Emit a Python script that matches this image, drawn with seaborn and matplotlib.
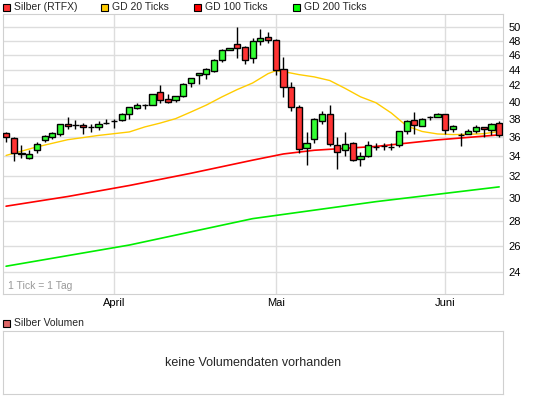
import numpy as np
import pandas as pd
import seaborn as sns
import matplotlib.pyplot as plt
from matplotlib.patches import Rectangle

# candles (daily ticks)
opens = [36.40, 35.92, 34.28, 33.81, 34.60, 35.65, 36.03, 36.36, 37.38, 37.33,
         37.27, 37.12, 37.12, 37.56, 37.79, 37.84, 38.59, 39.29, 39.64, 39.64,
         41.16, 40.28, 40.16, 40.73, 42.26, 43.28, 43.45, 43.84, 45.26, 46.64,
         47.48, 47.06, 45.53, 47.90, 48.49, 48.05, 44.06, 41.76, 39.33, 34.80,
         35.75, 37.72, 38.52, 35.12, 34.60, 35.32, 33.68, 33.98, 34.97, 35.01,
         34.97, 35.15, 36.68, 37.91, 37.22, 38.17, 38.17, 38.52, 36.90, 36.25,
         36.29, 36.68, 37.12, 36.79, 37.56]
highs = [36.54, 35.97, 35.12, 34.63, 35.43, 36.22, 36.54, 37.41, 38.21, 37.87,
         37.49, 37.38, 37.75, 37.98, 37.95, 38.64, 39.37, 39.84, 39.72, 40.93,
         42.05, 40.93, 40.68, 42.30, 42.93, 43.57, 44.20, 45.40, 46.78, 47.00,
         49.95, 47.24, 48.34, 49.66, 49.22, 48.24, 45.67, 42.42, 39.57, 36.51,
         38.07, 38.90, 39.57, 35.97, 36.51, 35.43, 34.39, 35.53, 35.32, 35.38,
         35.38, 36.64, 37.87, 38.82, 38.13, 38.36, 38.67, 38.52, 37.31, 36.47,
         36.90, 37.33, 37.12, 37.56, 37.71]
lows = [35.49, 33.51, 33.84, 33.71, 34.35, 35.43, 35.75, 36.14, 36.83, 36.90,
        36.36, 36.54, 36.76, 37.38, 37.01, 37.75, 38.02, 39.11, 39.17, 39.60,
        39.80, 39.80, 40.01, 40.52, 41.84, 42.22, 42.84, 43.71, 45.07, 46.64,
        45.61, 44.73, 44.95, 47.33, 47.70, 43.28, 40.61, 38.94, 34.28, 33.14,
        35.32, 37.38, 35.01, 32.68, 33.98, 33.50, 32.98, 33.90, 34.63, 34.63,
        34.63, 34.97, 36.29, 36.29, 37.22, 37.91, 38.17, 36.36, 36.58, 35.08,
        36.29, 36.47, 36.03, 36.25, 36.03]
closes = [35.97, 34.28, 34.24, 34.21, 35.22, 36.11, 36.40, 37.38, 37.16, 37.33,
          37.12, 37.12, 37.38, 37.56, 37.79, 38.52, 39.33, 39.57, 39.64, 40.89,
          40.20, 40.01, 40.64, 42.14, 42.89, 43.53, 44.06, 45.26, 46.64, 46.92,
          46.92, 45.26, 47.90, 48.34, 48.05, 43.93, 41.76, 39.33, 34.70, 35.32,
          37.95, 38.52, 35.22, 34.39, 35.22, 33.58, 33.98, 35.12, 34.97, 35.01,
          34.97, 36.64, 37.79, 37.27, 37.95, 38.17, 38.52, 36.79, 37.20, 36.25,
          36.68, 37.12, 36.87, 37.45, 36.18]

# moving averages, read at tick positions
gd20_idx = [0, 4, 8, 12, 16, 18, 20, 22, 24, 26, 28, 30, 32, 34, 35, 36, 38, 40,
            42, 44, 46, 48, 50, 52, 54, 56, 58, 60, 62, 64]
gd20 = [34.06, 34.94, 35.70, 36.16, 36.54, 37.09, 37.52, 38.02, 38.79, 39.60,
        40.57, 41.48, 42.30, 43.50, 43.88, 43.77, 43.38, 43.08, 42.62, 41.63,
        40.59, 39.88, 38.67, 37.20, 36.59, 36.32, 36.25, 36.28, 36.35, 36.59]
gd100_idx = [0, 8, 16, 24, 32, 36, 40, 48, 56, 64]
gd100 = [29.26, 30.12, 31.13, 32.29, 33.58, 34.21, 34.59, 34.99, 35.68, 36.22]
gd200_idx = [0, 16, 32, 48, 64]
gd200 = [24.45, 26.05, 28.19, 29.66, 31.00]

month_pos = [14, 35, 57]
month_labels = ["April", "Mai", "Juni"]
y_ticks = list(range(24, 51, 2))

sns.set_style("white")
plt.rcParams['font.family'] = ['Liberation Sans', 'DejaVu Sans']

fig = plt.figure(figsize=(5.45, 3.98), dpi=100)
W, H = 545, 398
ax = fig.add_axes([3/W, 1-294/H, 500/W, 280/H])

n = len(opens)
x = np.arange(n)
df = pd.DataFrame({"x": x, "o": opens, "h": highs, "l": lows, "c": closes})
up = df.c >= df.o
cols = np.where(up, "#33ff33", "#ff3333")

ax.vlines(df.x, df.l, df.h, color="black", lw=1, zorder=3)
ax.bar(df.x, (df.c - df.o).abs(), bottom=np.minimum(df.o, df.c), width=0.8,
       color=cols, edgecolor="black", linewidth=1, zorder=4)

sns.lineplot(x=gd20_idx, y=gd20, color="#ffcc00", lw=1, ax=ax, zorder=2)
sns.lineplot(x=gd100_idx, y=gd100, color="#ff0000", lw=1.2, ax=ax, zorder=2)
sns.lineplot(x=gd200_idx, y=gd200, color="#00ee00", lw=1.2, ax=ax, zorder=2)

ax.set_yscale("log")
ax.set_ylim(22.5, 52)
ax.set_xlim(-0.4, 64.5)
ax.set_yticks(y_ticks)
ax.set_yticklabels([str(t) for t in y_ticks])
ax.yaxis.set_minor_locator(plt.NullLocator())
ax.yaxis.tick_right()
ax.set_xticks(month_pos)
ax.set_xticklabels(month_labels)
ax.tick_params(length=0, labelsize=8, colors="black", pad=3)
ax.tick_params(axis="y", pad=4)
ax.grid(True, color="#dddddd", lw=1)
ax.set_axisbelow(True)
for s in ax.spines.values():
    s.set_color("#d0d0d0")
ax.text(0.01, 0.012, "1 Tick = 1 Tag", transform=ax.transAxes, fontsize=7.5,
        color="#999999", ha="left", va="bottom")

# legend row
leg = [("#ff3333", "Silber (RTFX)", 3), ("#ffcc00", "GD 20 Ticks", 101),
       ("#ff0000", "GD 100 Ticks", 194), ("#00ff00", "GD 200 Ticks", 293)]
for c, lab, px in leg:
    fig.patches.append(Rectangle((px/W, 1-11/H), 7/W, 7/H, transform=fig.transFigure,
                                 facecolor=c, edgecolor="black", lw=0.8))
    fig.text((px+11)/W, 1-7.5/H, lab, fontsize=7.5, va="center", ha="left")

# volume panel
fig.patches.append(Rectangle((3/W, 1-327/H), 7/W, 7/H, transform=fig.transFigure,
                             facecolor="#dd6666", edgecolor="black", lw=0.8))
fig.text(14/W, 1-323.5/H, "Silber Volumen", fontsize=7.5, va="center", ha="left")
vax = fig.add_axes([3/W, 1-394/H, 500/W, 63/H])
vax.set_xticks([])
vax.set_yticks([])
for s in vax.spines.values():
    s.set_color("#d0d0d0")
vax.text(0.5, 0.5, "keine Volumendaten vorhanden", transform=vax.transAxes,
         fontsize=9, ha="center", va="center")

fig.savefig("out.png", dpi=100)
